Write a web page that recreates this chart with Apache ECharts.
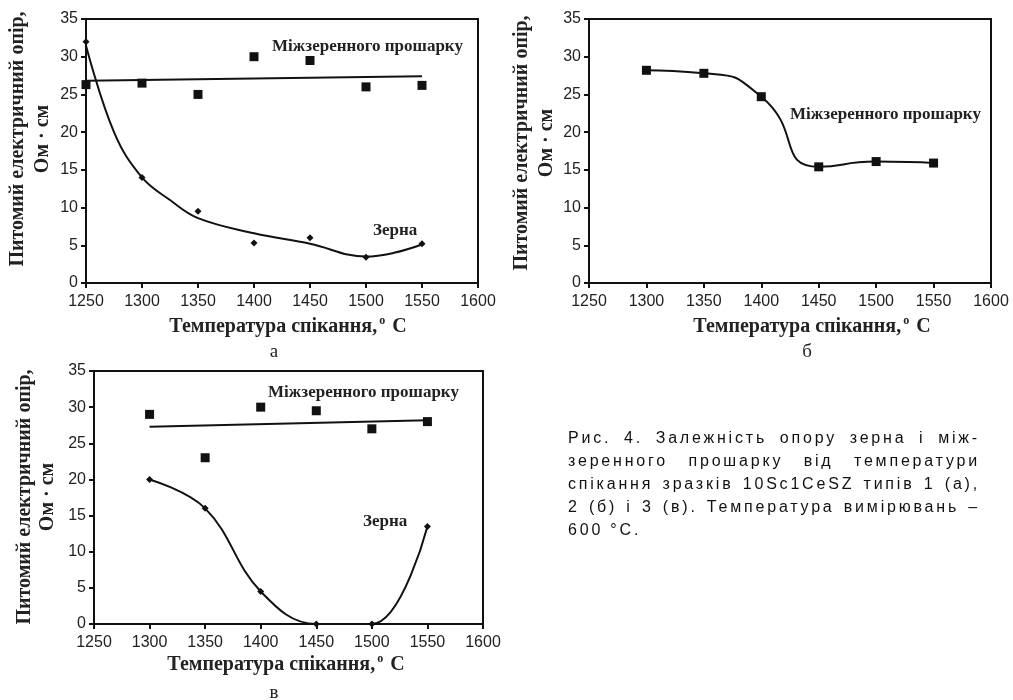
<!DOCTYPE html>
<html>
<head>
<meta charset="utf-8">
<script src="https://cdn.jsdelivr.net/npm/echarts@6/dist/echarts.min.js"></script>
<style>
  html, body { margin: 0; padding: 0; background: #fff; }
  #chart { position: absolute; left: 0; top: 0; width: 1013px; height: 700px; }
  #caption {
    position: absolute; left: 568px; top: 426px; width: 412px;
    font: 16px "Liberation Sans", Arial, sans-serif; line-height: 23px; color: #111;
    letter-spacing: 2.8px;
  }
  #caption div { text-align: justify; text-align-last: justify; white-space: nowrap; }
  #caption div.last { text-align-last: left; }
</style>
</head>
<body>
<div id="chart"></div>
<div id="caption">
  <div>Рис. 4. Залежність опору зерна і між-</div>
  <div>зеренного прошарку від температури</div>
  <div>спікання зразків 10Sc1CeSZ типів 1 (а),</div>
  <div>2 (б) і 3 (в). Температура вимірювань –</div>
  <div class="last">600 °C.</div>
</div>
<script>
// panel a
const tempA = [1250, 1300, 1350, 1400, 1450, 1500, 1550];
const boundaryA = [26.3, 26.5, 25, 30, 29.5, 26, 26.2];
const grainA = [32, 14, 9.5, 5.3, 6, 3.4, 5.2];
const boundaryTrendA = [[1250, 26.8], [1550, 27.4]];
const grainCurveA = [[1250, 31.5], [1275, 20], [1300, 14], [1325, 11], [1350, 8.6],
  [1400, 6.6], [1450, 5.2], [1500, 3.5], [1525, 4.0], [1550, 5.1]];

// panel b
const tempB = [1300, 1350, 1400, 1450, 1500, 1550];
const boundaryB = [28.2, 27.8, 24.7, 15.4, 16.1, 15.9];

// panel c
const tempC = [1300, 1350, 1400, 1450, 1500, 1550];
const boundaryC = [29, 23, 30, 29.5, 27, 28];
const grainC = [20, 16, 4.5, 0, 0, 13.5];
const boundaryTrendC = [[1300, 27.3], [1550, 28.2]];

const zip = (xs, ys) => xs.map((x, i) => [x, ys[i]]);

const grids = [
  { left: 86, top: 19, width: 392, height: 264 },
  { left: 589, top: 19, width: 402, height: 264 },
  { left: 94, top: 371, width: 389, height: 253 }
];

const serifBold = { fontFamily: "Liberation Serif", fontWeight: "bold", fill: "#222" };

function xAxis(i) {
  return {
    type: "value", gridIndex: i, min: 1250, max: 1600, interval: 50,
    axisLine: { lineStyle: { color: "#111", width: 2 } },
    axisTick: { length: 5, lineStyle: { color: "#111", width: 2 } },
    axisLabel: { color: "#222", fontSize: 16, fontFamily: "Liberation Sans", margin: 11, formatter: v => String(v) },
    splitLine: { show: false }
  };
}
function yAxis(i) {
  return {
    type: "value", gridIndex: i, min: 0, max: 35, interval: 5,
    axisLine: { lineStyle: { color: "#111", width: 2 } },
    axisTick: { length: 5, lineStyle: { color: "#111", width: 2 } },
    axisLabel: { color: "#222", fontSize: 16, fontFamily: "Liberation Sans", margin: 8 },
    splitLine: { show: false }
  };
}

const line = { color: "#111", width: 2 };
const dot = { color: "#111", opacity: 1 };

const series = [
  { type: "line", xAxisIndex: 0, yAxisIndex: 0, data: boundaryTrendA, showSymbol: false, lineStyle: line, z: 2 },
  { type: "line", xAxisIndex: 0, yAxisIndex: 0, data: grainCurveA, smooth: 0.4, showSymbol: false, lineStyle: line, z: 2 },
  { type: "scatter", xAxisIndex: 0, yAxisIndex: 0, data: zip(tempA, boundaryA), symbol: "rect", symbolSize: 9, itemStyle: dot, z: 3 },
  { type: "scatter", xAxisIndex: 0, yAxisIndex: 0, data: zip(tempA, grainA), symbol: "diamond", symbolSize: 7, itemStyle: dot, z: 3 },

  { type: "line", xAxisIndex: 1, yAxisIndex: 1, data: zip(tempB, boundaryB), smooth: 0.6, symbol: "rect", symbolSize: 9, lineStyle: line, itemStyle: dot },

  { type: "line", xAxisIndex: 2, yAxisIndex: 2, data: boundaryTrendC, showSymbol: false, lineStyle: line, z: 2 },
  { type: "line", xAxisIndex: 2, yAxisIndex: 2, data: zip(tempC, grainC), smooth: 0.4, symbol: "diamond", symbolSize: 7, lineStyle: line, itemStyle: dot, z: 2 },
  { type: "scatter", xAxisIndex: 2, yAxisIndex: 2, data: zip(tempC, boundaryC), symbol: "rect", symbolSize: 9, itemStyle: dot, z: 3 }
];

function yTitle(cx1, cx2, cy) {
  return [
    { type: "text", x: cx1, y: cy, rotation: Math.PI / 2,
      style: Object.assign({ text: "Питомий електричний опір,", align: "center", verticalAlign: "middle", fontSize: 20 }, serifBold) },
    { type: "text", x: cx2, y: cy, rotation: Math.PI / 2,
      style: Object.assign({ text: "Ом · см", align: "center", verticalAlign: "middle", fontSize: 20 }, serifBold) }
  ];
}
function xTitle(cx, cy) {
  return {
    type: "text", x: cx, y: cy,
    style: {
      text: "{t|Температура спікання,}{s|o}{t| С}", align: "center", verticalAlign: "middle",
      rich: {
        t: { fontFamily: "Liberation Serif", fontWeight: "bold", fontSize: 20, fill: "#222" },
        s: { fontFamily: "Liberation Serif", fontWeight: "bold", fontSize: 12, fill: "#222", padding: [0, 2, 12, 2] }
      }
    }
  };
}
function note(text, x, y) {
  return { type: "text", x: x, y: y, style: Object.assign({ text: text, verticalAlign: "middle", fontSize: 17 }, serifBold) };
}
function letter(text, x, y) {
  return { type: "text", x: x, y: y, style: { text: text, align: "center", verticalAlign: "middle", fontFamily: "Liberation Serif", fontSize: 19, fill: "#222" } };
}

const graphic = [].concat(
  yTitle(18, 43, 139),
  yTitle(522, 547, 143),
  yTitle(25, 48, 497),
  [
    xTitle(288, 327),
    xTitle(812, 327),
    xTitle(286, 665),
    note("Міжзеренного прошарку", 272, 47),
    note("Зерна", 373, 231),
    note("Міжзеренного прошарку", 790, 115),
    note("Міжзеренного прошарку", 268, 393),
    note("Зерна", 363, 522),
    letter("а", 274, 352),
    letter("б", 807, 352),
    letter("в", 274, 693)
  ]
);

const chart = echarts.init(document.getElementById("chart"), null, { renderer: "canvas" });
chart.setOption({
  animation: false,
  backgroundColor: "#fff",
  grid: grids.map(g => Object.assign({ show: true, borderColor: "#111", borderWidth: 2, backgroundColor: "transparent" }, g)),
  xAxis: [xAxis(0), xAxis(1), xAxis(2)],
  yAxis: [yAxis(0), yAxis(1), yAxis(2)],
  series: series,
  graphic: graphic
});
</script>
</body>
</html>
